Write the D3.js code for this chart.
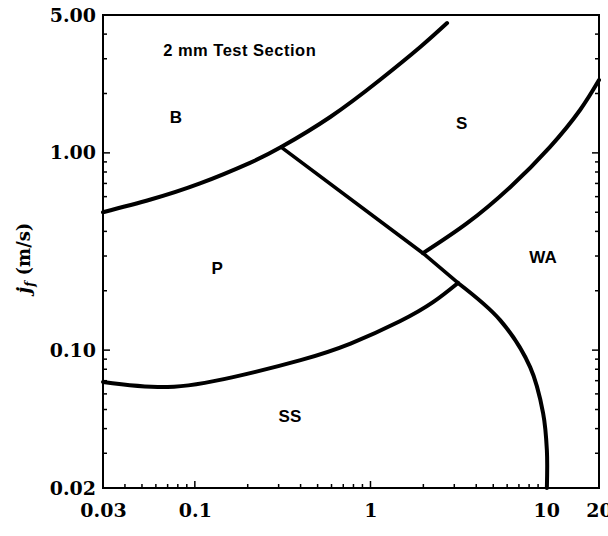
<!DOCTYPE html>
<html>
<head>
<meta charset="utf-8">
<script src="https://cdn.jsdelivr.net/npm/d3@7"></script>
<style>
  body { margin: 0; background: #fff; }
  svg { display: block; }
</style>
</head>
<body>
<main></main>
<script>
// flow regime map, 2 mm test section (x: j_g, y: j_f, both log)
const xTicks = [0.03, 0.1, 1, 10, 20]
const xTickLabels = ['0.03', '0.1', '1', '10', '20']
const yTicks = [0.02, 0.1, 1, 5]
const yTickLabels = ['0.02', '0.10', '1.00', '5.00']
const xMajor = [0.1, 1, 10]
const xMinor = [0.04, 0.05, 0.06, 0.07, 0.08, 0.09, 0.2, 0.3, 0.4, 0.5, 0.6, 0.7, 0.8, 0.9, 2, 3, 4, 5, 6, 7, 8, 9]
const yMajor = [0.1, 1]
const yMinor = [0.03, 0.04, 0.05, 0.06, 0.07, 0.08, 0.09, 0.2, 0.3, 0.4, 0.5, 0.6, 0.7, 0.8, 0.9, 2, 3, 4]

// boundaries, [j_g, j_f]
const bubblyPlug = [[0.03, 0.50], [0.056, 0.58], [0.107, 0.70], [0.206, 0.89], [0.31, 1.07], [0.59, 1.52], [1.13, 2.34], [1.92, 3.44], [2.73, 4.55]]
const slugPlugLine = [[0.31, 1.07], [1.99, 0.31], [3.15, 0.219]]
const slugAnnular = [[1.99, 0.31], [3.55, 0.44], [6.24, 0.67], [10.5, 1.07], [15.6, 1.65], [20, 2.34]]
const strataAnnular = [[3.15, 0.219], [5.47, 0.142], [8.11, 0.082], [9.61, 0.048], [10.1, 0.031], [10.1, 0.02]]
const plugStrat = [[0.03, 0.069], [0.07, 0.065], [0.165, 0.073], [0.40, 0.089], [0.77, 0.108], [1.47, 0.140], [2.27, 0.175], [3.15, 0.219]]

const regionNames = ['B', 'S', 'P', 'WA', 'SS']
const regionPos = [[0.078, 1.53], [3.30, 1.42], [0.134, 0.262], [9.6, 0.298], [0.348, 0.0466]]

const width = 608, height = 536
const margin = {top: 15, right: 9, bottom: 48, left: 103}

let svg = d3.select('main')
    .append('svg')
    .attr('width', width)
    .attr('height', height)

let x = d3.scaleLog()
    .domain([0.03, 20])
    .range([margin.left, width - margin.right])

let y = d3.scaleLog()
    .domain([0.02, 5])
    .range([height - margin.bottom, margin.top])

const labelFont = 'DejaVu Serif, serif'
const sansFont = 'Liberation Sans, Arial, sans-serif'

// tick labels
let xAxis = svg.append('g')
    .attr('transform', `translate(0,${height - margin.bottom})`)
    .call(d3.axisBottom(x).tickValues(xTicks).tickSize(0).tickPadding(16)
        .tickFormat((d, i) => xTickLabels[i]))
xAxis.select('.domain').remove()
xAxis.selectAll('text')
    .style('font-family', labelFont)
    .style('font-weight', 'bold')
    .style('font-size', '19px')
    .attr('fill', '#000')

let yAxis = svg.append('g')
    .attr('transform', `translate(${margin.left},0)`)
    .call(d3.axisLeft(y).tickValues(yTicks).tickSize(0).tickPadding(7)
        .tickFormat((d, i) => yTickLabels[i]))
yAxis.select('.domain').remove()
yAxis.selectAll('text')
    .style('font-family', labelFont)
    .style('font-weight', 'bold')
    .style('font-size', '19px')
    .attr('fill', '#000')

// inward ticks on left, right and bottom
let ticks = svg.append('g').attr('stroke', '#000').attr('stroke-width', 1.5)
const x0 = x.range()[0], x1 = x.range()[1]
const y0 = y.range()[0], y1 = y.range()[1]

yMajor.concat(yMinor).forEach(v => {
    let len = yMajor.includes(v) ? 7 : 4
    ticks.append('line').attr('x1', x0).attr('x2', x0 + len).attr('y1', y(v)).attr('y2', y(v))
    ticks.append('line').attr('x1', x1).attr('x2', x1 - len).attr('y1', y(v)).attr('y2', y(v))
})
xMajor.concat(xMinor).forEach(v => {
    let len = xMajor.includes(v) ? 7 : 4
    ticks.append('line').attr('x1', x(v)).attr('x2', x(v)).attr('y1', y0).attr('y2', y0 - len)
})

// frame
svg.append('rect')
    .attr('x', x0)
    .attr('y', y1)
    .attr('width', x1 - x0)
    .attr('height', y0 - y1)
    .attr('fill', 'none')
    .attr('stroke', '#000')
    .attr('stroke-width', 2)

// boundaries
let smooth = d3.line()
    .x(d => x(d[0]))
    .y(d => y(d[1]))
    .curve(d3.curveCatmullRom)
let natural = d3.line()
    .x(d => x(d[0]))
    .y(d => y(d[1]))
    .curve(d3.curveNatural)
let straight = d3.line()
    .x(d => x(d[0]))
    .y(d => y(d[1]))

let drawBoundary = (d, w) => {
    svg.append('path')
        .attr('d', d)
        .attr('fill', 'none')
        .attr('stroke', '#000')
        .attr('stroke-width', w)
        .attr('stroke-linecap', 'round')
}
drawBoundary(natural(bubblyPlug), 4)
drawBoundary(natural(slugAnnular), 4)
drawBoundary(smooth(strataAnnular), 4)
drawBoundary(natural(plugStrat), 4)
drawBoundary(straight(slugPlugLine), 3.6)

// region labels
regionNames.forEach((name, i) => {
    svg.append('text')
        .attr('x', x(regionPos[i][0]))
        .attr('y', y(regionPos[i][1]))
        .attr('dy', '0.36em')
        .attr('text-anchor', 'middle')
        .style('font-family', sansFont)
        .style('font-weight', 'bold')
        .style('font-size', '17px')
        .text(name)
})

svg.append('text')
    .attr('x', x(0.066))
    .attr('y', y(3.32))
    .attr('dy', '0.36em')
    .style('font-family', sansFont)
    .style('font-weight', 'bold')
    .style('font-size', '16.5px')
    .style('letter-spacing', '0.5px')
    .text('2 mm Test Section')

// y axis title
let yTitle = svg.append('text')
    .attr('transform', 'translate(24,258) rotate(-90)')
    .attr('text-anchor', 'middle')
    .attr('dy', '0.35em')
    .style('font-family', labelFont)
    .style('font-weight', 'bold')
    .style('font-size', '18px')
yTitle.append('tspan').style('font-style', 'italic').text('j')
yTitle.append('tspan').style('font-style', 'italic').style('font-size', '12px').attr('dy', '4').text('f')
yTitle.append('tspan').attr('dy', '-4').text(' (m/s)')
</script>
</body>
</html>
